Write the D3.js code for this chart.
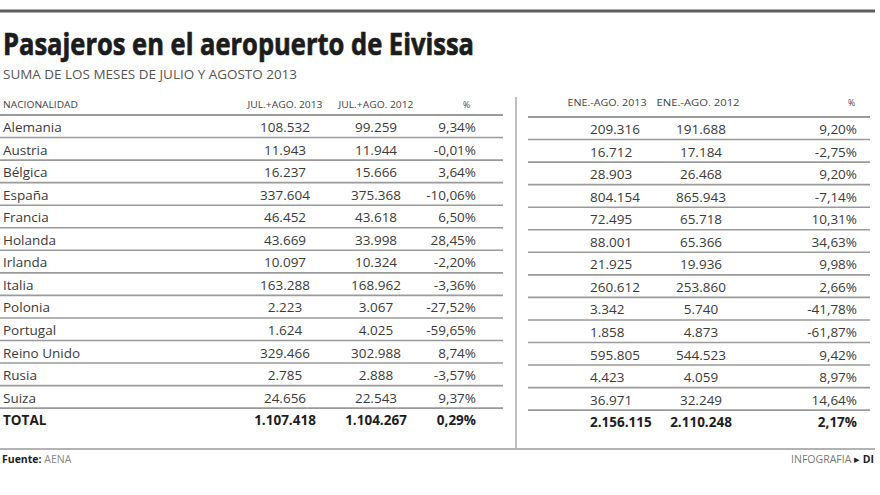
<!DOCTYPE html>
<html lang="es">
<head>
<meta charset="UTF-8">
<title>Pasajeros en el aeropuerto de Eivissa</title>
<script src="https://d3js.org/d3.v7.min.js"></script>
<style>
  body { margin: 0; background: #fff; }
  svg { display: block; font-family: "Open Sans", Arial, sans-serif; }
  .cell { font-size: 13.5px; fill: #3b3b3b; }
  .total { font-weight: bold; fill: #1e1e1e; }
  .head { font-size: 8.5px; fill: #444; }
</style>
</head>
<body>
<svg width="880" height="495"></svg>
<script>
// Datos
const paises = ["Alemania", "Austria", "Bélgica", "España", "Francia", "Holanda", "Irlanda",
  "Italia", "Polonia", "Portugal", "Reino Unido", "Rusia", "Suiza", "TOTAL"];
const julAgo2013 = [108532, 11943, 16237, 337604, 46452, 43669, 10097, 163288, 2223, 1624, 329466, 2785, 24656, 1107418];
const julAgo2012 = [99259, 11944, 15666, 375368, 43618, 33998, 10324, 168962, 3067, 4025, 302988, 2888, 22543, 1104267];
const julAgoPct = [9.34, -0.01, 3.64, -10.06, 6.50, 28.45, -2.20, -3.36, -27.52, -59.65, 8.74, -3.57, 9.37, 0.29];
const eneAgo2013 = [209316, 16712, 28903, 804154, 72495, 88001, 21925, 260612, 3342, 1858, 595805, 4423, 36971, 2156115];
const eneAgo2012 = [191688, 17184, 26468, 865943, 65718, 65366, 19936, 253860, 5740, 4873, 544523, 4059, 32249, 2110248];
const eneAgoPct = [9.20, -2.75, 9.20, -7.14, 10.31, 34.63, 9.98, 2.66, -41.78, -61.87, 9.42, 8.97, 14.64, 2.17];
const cabeceraIzq = ["NACIONALIDAD", "JUL.+AGO. 2013", "JUL.+AGO. 2012", "%"];
const cabeceraDer = ["ENE.-AGO. 2013", "ENE.-AGO. 2012", "%"];

const es = d3.formatLocale({ decimal: ",", thousands: ".", grouping: [3], currency: ["", " €"], minus: "-" });
const fmtNum = es.format(",d");
const fmtPct = v => es.format(",.2f")(v) + "%";

const svg = d3.select("svg");

// escala de filas
const y = d3.scaleBand()
  .domain(d3.range(paises.length))
  .range([115, 115 + 22.55 * paises.length])
  .paddingInner(0).paddingOuter(0);

// titulo
svg.append("line").attr("x1", 0).attr("x2", 875).attr("y1", 11).attr("y2", 11)
  .attr("stroke", "#5e5e5e").attr("stroke-width", 3);
svg.append("text").attr("x", 3).attr("y", 55)
  .attr("textLength", 471).attr("lengthAdjust", "spacingAndGlyphs")
  .style("font-size", "31px").style("font-weight", "bold").style("fill", "#1c1c1c")
  .style("stroke", "#1c1c1c").style("stroke-width", 0.7)
  .text("Pasajeros en el aeropuerto de Eivissa");
svg.append("text").attr("x", 3).attr("y", 79)
  .attr("textLength", 294).attr("lengthAdjust", "spacingAndGlyphs")
  .style("font-size", "13px").style("fill", "#555")
  .text("SUMA DE LOS MESES DE JULIO Y AGOSTO 2013");

// tabla izquierda
const left = svg.append("g");
const colIzq = [
  { x: 3, anchor: "start" },
  { x: 285, anchor: "middle" },
  { x: 376, anchor: "middle" },
  { x: 476, anchor: "end" }
];
left.selectAll("text.head").data(cabeceraIzq).join("text")
  .attr("class", "head")
  .attr("x", (d, i) => i === 3 ? 470 : colIzq[i].x)
  .attr("y", 108)
  .attr("text-anchor", (d, i) => i === 3 ? "end" : colIzq[i].anchor)
  .attr("textLength", (d, i) => [75, 75, 75, null][i])
  .attr("lengthAdjust", "spacingAndGlyphs")
  .text(d => d);

left.selectAll("line.sep").data(d3.range(paises.length)).join("line")
  .attr("x1", 0).attr("x2", 503)
  .attr("y1", i => y(i)).attr("y2", i => y(i))
  .attr("stroke", "#9a9a9a").attr("stroke-width", i => i === 0 ? 2 : 1.6);

const filasIzq = left.selectAll("g.fila").data(d3.range(paises.length)).join("g")
  .attr("class", "fila")
  .attr("transform", i => `translate(0,${y(i) + 17})`);
filasIzq.each(function (i) {
  const g = d3.select(this);
  const vals = [paises[i], fmtNum(julAgo2013[i]), fmtNum(julAgo2012[i]), fmtPct(julAgoPct[i])];
  g.selectAll("text").data(vals).join("text")
    .attr("class", i === paises.length - 1 ? "cell total" : "cell")
    .attr("x", (d, j) => colIzq[j].x)
    .attr("text-anchor", (d, j) => colIzq[j].anchor)
    .text(d => d);
});

// separador vertical
svg.append("line").attr("x1", 516).attr("x2", 516).attr("y1", 97).attr("y2", 448)
  .attr("stroke", "#aaa").attr("stroke-width", 1.5);

// tabla derecha
const right = svg.append("g").attr("transform", "translate(0,2)");
const colDer = [
  { x: 590, anchor: "start" },
  { x: 701, anchor: "middle" },
  { x: 857, anchor: "end" }
];
right.selectAll("text.head").data(cabeceraDer).join("text")
  .attr("class", "head")
  .attr("x", (d, i) => [607, 698, 855][i])
  .attr("y", 104)
  .attr("text-anchor", (d, i) => i === 2 ? "end" : "middle")
  .attr("textLength", (d, i) => [79, 83, null][i])
  .attr("lengthAdjust", "spacingAndGlyphs")
  .text(d => d);

right.selectAll("line.sep").data(d3.range(paises.length)).join("line")
  .attr("x1", 528).attr("x2", 870)
  .attr("y1", i => y(i)).attr("y2", i => y(i))
  .attr("stroke", "#9a9a9a").attr("stroke-width", i => i === 0 ? 2 : 1.6);

const filasDer = right.selectAll("g.fila").data(d3.range(paises.length)).join("g")
  .attr("class", "fila")
  .attr("transform", i => `translate(0,${y(i) + 17})`);
filasDer.each(function (i) {
  const g = d3.select(this);
  const vals = [fmtNum(eneAgo2013[i]), fmtNum(eneAgo2012[i]), fmtPct(eneAgoPct[i])];
  g.selectAll("text").data(vals).join("text")
    .attr("class", i === paises.length - 1 ? "cell total" : "cell")
    .attr("x", (d, j) => colDer[j].x)
    .attr("text-anchor", (d, j) => colDer[j].anchor)
    .text(d => d);
});

// pie
svg.append("line").attr("x1", 0).attr("x2", 875).attr("y1", 449).attr("y2", 449)
  .attr("stroke", "#9a9a9a").attr("stroke-width", 1.6);
const fuente = svg.append("text").attr("x", 2).attr("y", 463).style("font-size", "10.5px");
fuente.append("tspan").style("font-weight", "bold").style("fill", "#222").text("Fuente: ");
fuente.append("tspan").style("fill", "#888").text("AENA");
const firma = svg.append("text").attr("x", 874).attr("y", 463)
  .attr("text-anchor", "end").style("font-size", "10.5px");
firma.append("tspan").style("fill", "#777").text("INFOGRAFIA ");
firma.append("tspan").style("fill", "#222").text("▸ ");
firma.append("tspan").style("fill", "#222").style("font-weight", "bold").text("DI");
</script>
</body>
</html>
